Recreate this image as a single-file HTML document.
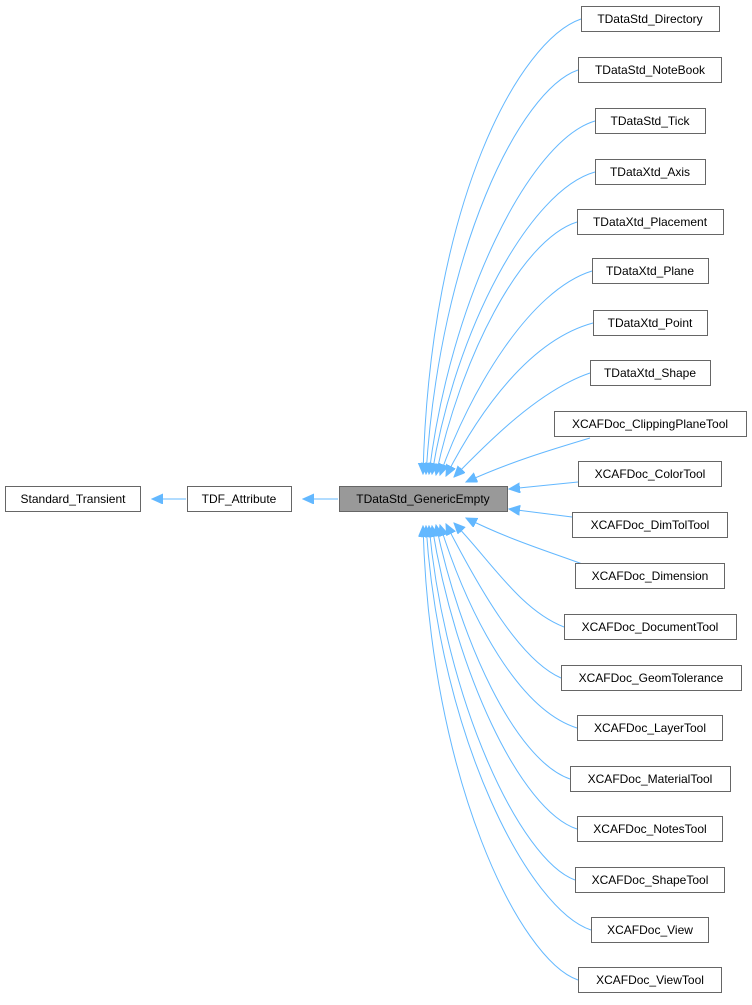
<!DOCTYPE html>
<html><head><style>
body{margin:0;background:#fff;}
svg text{font-family:"Liberation Sans",sans-serif;font-size:12px;fill:#000;}
</style></head><body>
<svg width="752" height="1000" xmlns="http://www.w3.org/2000/svg">
<defs>
<marker id="a" markerWidth="12" markerHeight="12" refX="11" refY="5" orient="auto" markerUnits="userSpaceOnUse">
<path d="M0,0 L11,5 L0,10 Z" fill="#63b8ff" stroke="#63b8ff"/>
</marker>
</defs>
<g fill="none" stroke="#63b8ff" stroke-width="1">
<path d="M186,499 L152,499" marker-end="url(#a)"/>
<path d="M338,499 L303,499" marker-end="url(#a)"/>
<path d="M581,19 C520,40 430,200 423,474" marker-end="url(#a)"/>
<path d="M578,70 C520,90 440,250 426,474" marker-end="url(#a)"/>
<path d="M595,121 C530,140 450,300 429,474" marker-end="url(#a)"/>
<path d="M595,172 C530,190 455,330 432,474" marker-end="url(#a)"/>
<path d="M577,222 C520,240 460,360 436,475" marker-end="url(#a)"/>
<path d="M592,271 C530,290 470,390 440,475" marker-end="url(#a)"/>
<path d="M593,323 C530,340 480,410 446,476" marker-end="url(#a)"/>
<path d="M590,373 C540,390 490,440 454,477" marker-end="url(#a)"/>
<path d="M590,438 C550,450 510,462 466,482" marker-end="url(#a)"/>
<path d="M578,482 L509,489" marker-end="url(#a)"/>
<path d="M572,517 L509,509" marker-end="url(#a)"/>
<path d="M585,565 C550,552 510,540 466,518" marker-end="url(#a)"/>
<path d="M564,627 C520,610 490,560 454,523" marker-end="url(#a)"/>
<path d="M561,678 C520,660 480,590 446,524" marker-end="url(#a)"/>
<path d="M577,728 C520,710 470,620 440,525" marker-end="url(#a)"/>
<path d="M570,779 C515,760 460,640 436,525" marker-end="url(#a)"/>
<path d="M577,829 C520,810 455,670 432,526" marker-end="url(#a)"/>
<path d="M575,880 C520,860 445,700 429,526" marker-end="url(#a)"/>
<path d="M591,930 C530,910 440,740 426,526" marker-end="url(#a)"/>
<path d="M578,980 C520,960 430,780 423,526" marker-end="url(#a)"/>
</g>
<g stroke="#666" stroke-width="1" fill="#fff">
<rect x="5.5" y="486.5" width="135" height="25"/>
<rect x="187.5" y="486.5" width="104" height="25"/>
<rect x="339.5" y="486.5" width="168" height="25" fill="#999"/>
<rect x="581.5" y="6.5" width="138" height="25"/>
<rect x="578.5" y="57.5" width="143" height="25"/>
<rect x="595.5" y="108.5" width="110" height="25"/>
<rect x="595.5" y="159.5" width="110" height="25"/>
<rect x="577.5" y="209.5" width="146" height="25"/>
<rect x="592.5" y="258.5" width="116" height="25"/>
<rect x="593.5" y="310.5" width="114" height="25"/>
<rect x="590.5" y="360.5" width="120" height="25"/>
<rect x="554.5" y="411.5" width="192" height="25"/>
<rect x="578.5" y="461.5" width="143" height="25"/>
<rect x="572.5" y="512.5" width="155" height="25"/>
<rect x="575.5" y="563.5" width="149" height="25"/>
<rect x="564.5" y="614.5" width="172" height="25"/>
<rect x="561.5" y="665.5" width="180" height="25"/>
<rect x="577.5" y="715.5" width="145" height="25"/>
<rect x="570.5" y="766.5" width="160" height="25"/>
<rect x="577.5" y="816.5" width="145" height="25"/>
<rect x="575.5" y="867.5" width="149" height="25"/>
<rect x="591.5" y="917.5" width="117" height="25"/>
<rect x="578.5" y="967.5" width="143" height="25"/>
</g>
<g text-anchor="middle">
<text x="73" y="503">Standard_Transient</text>
<text x="239" y="503">TDF_Attribute</text>
<text x="423" y="503">TDataStd_GenericEmpty</text>
<text x="650" y="23">TDataStd_Directory</text>
<text x="650" y="74">TDataStd_NoteBook</text>
<text x="650" y="125">TDataStd_Tick</text>
<text x="650" y="176">TDataXtd_Axis</text>
<text x="650" y="226">TDataXtd_Placement</text>
<text x="650" y="275">TDataXtd_Plane</text>
<text x="650" y="327">TDataXtd_Point</text>
<text x="650" y="377">TDataXtd_Shape</text>
<text x="650" y="428">XCAFDoc_ClippingPlaneTool</text>
<text x="650" y="478">XCAFDoc_ColorTool</text>
<text x="650" y="529">XCAFDoc_DimTolTool</text>
<text x="650" y="580">XCAFDoc_Dimension</text>
<text x="650" y="631">XCAFDoc_DocumentTool</text>
<text x="651" y="682">XCAFDoc_GeomTolerance</text>
<text x="650" y="732">XCAFDoc_LayerTool</text>
<text x="650" y="783">XCAFDoc_MaterialTool</text>
<text x="650" y="833">XCAFDoc_NotesTool</text>
<text x="650" y="884">XCAFDoc_ShapeTool</text>
<text x="650" y="934">XCAFDoc_View</text>
<text x="650" y="984">XCAFDoc_ViewTool</text>
</g>
</svg>
</body></html>
